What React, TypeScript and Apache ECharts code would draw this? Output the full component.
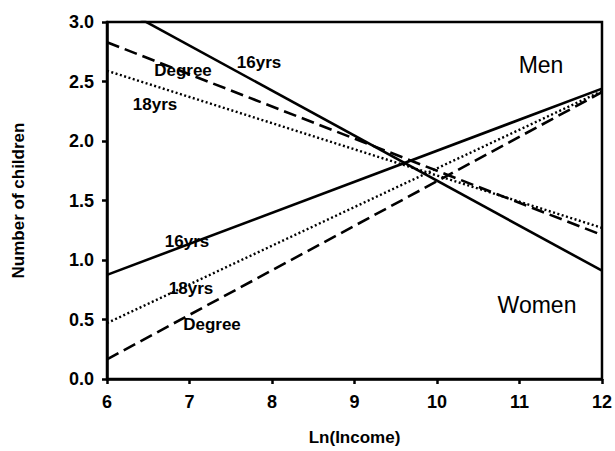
import React, { useEffect, useRef } from "react";
import * as echarts from "echarts";

// x positions of line endpoints (Ln income)
const xEnds = [6, 12];
// Men (decreasing)
const men16yrs = [3.18, 0.91];
const men18yrs = [2.59, 1.27];
const menDegree = [2.83, 1.21];
// Women (increasing)
const women16yrs = [0.875, 2.44];
const women18yrs = [0.47, 2.42];
const womenDegree = [0.165, 2.41];

const xTicks = [6, 7, 8, 9, 10, 11, 12];
const yTicks = [0, 0.5, 1, 1.5, 2, 2.5, 3];

const FONT = "'Liberation Sans', Arial, sans-serif";

const toPairs = (ys: number[]) => xEnds.map((x, i) => [x, ys[i]]);

const solid = { color: "#000", width: 2.6, type: "solid" as const };
const dashed = { color: "#000", width: 2.6, type: [13, 6] as any, cap: "butt" as const };
const dotted = { color: "#000", width: 2.4, type: [2, 2.5] as any, cap: "butt" as const };

function mk(name: string, ys: number[], lineStyle: any) {
  return {
    type: "line",
    name,
    data: toPairs(ys),
    symbol: "none",
    clip: true,
    lineStyle,
    z: 3,
  };
}

function lbl(text: string, cx: number, cy: number, size = 17, weight: any = "bold") {
  return {
    type: "text",
    x: cx,
    y: cy,
    z: 10,
    style: {
      text,
      fill: "#000",
      font: `${weight} ${size}px ${FONT}`,
      align: "center",
      verticalAlign: "middle",
    },
  };
}

export default function App() {
  const ref = useRef<HTMLDivElement>(null);
  useEffect(() => {
    if (!ref.current) return;
    const chart = echarts.init(ref.current, undefined, { renderer: "svg" });
    chart.setOption({
      animation: false,
      backgroundColor: "#fff",
      grid: {
        left: 107,
        right: 12,
        top: 22,
        bottom: 69,
        show: true,
        borderColor: "#000",
        borderWidth: 2.5,
        backgroundColor: "transparent",
      },
      xAxis: {
        type: "value",
        min: 6,
        max: 12,
        interval: 1,
        name: "Ln(Income)",
        nameLocation: "middle",
        nameGap: 50,
        nameTextStyle: { fontFamily: FONT, fontWeight: "bold", fontSize: 17, color: "#000" },
        axisLine: { show: true, lineStyle: { color: "#000", width: 2.5 } },
        axisTick: { show: true, inside: false, length: 5, lineStyle: { color: "#000", width: 2.5 } },
        axisLabel: {
          margin: 14,
          fontFamily: FONT,
          fontWeight: "bold",
          fontSize: 18,
          color: "#000",
          formatter: (v: number) => (xTicks.includes(v) ? String(v) : ""),
        },
        splitLine: { show: false },
      },
      yAxis: {
        type: "value",
        min: 0,
        max: 3,
        interval: 0.5,
        name: "Number of children",
        nameLocation: "middle",
        nameRotate: 90,
        nameGap: 80,
        nameTextStyle: { fontFamily: FONT, fontWeight: "bold", fontSize: 17, color: "#000" },
        axisLine: { show: true, lineStyle: { color: "#000", width: 2.5 } },
        axisTick: { show: true, inside: false, length: 5, lineStyle: { color: "#000", width: 2.5 } },
        axisLabel: {
          margin: 13,
          fontFamily: FONT,
          fontWeight: "bold",
          fontSize: 18,
          color: "#000",
          formatter: (v: number) => (yTicks.includes(v) ? v.toFixed(1) : ""),
        },
        splitLine: { show: false },
      },
      series: [
        mk("Men 16yrs", men16yrs, solid),
        mk("Men 18yrs", men18yrs, dotted),
        mk("Men Degree", menDegree, dashed),
        mk("Women 16yrs", women16yrs, solid),
        mk("Women 18yrs", women18yrs, dotted),
        mk("Women Degree", womenDegree, dashed),
      ],
      graphic: [
        lbl("16yrs", 259, 62),
        lbl("Degree", 183, 70),
        lbl("18yrs", 155, 104),
        lbl("16yrs", 187, 241),
        lbl("18yrs", 191, 288),
        lbl("Degree", 212, 324),
        lbl("Men", 541, 65, 23, "normal"),
        lbl("Women", 537, 305, 23, "normal"),
      ],
    });
    return () => chart.dispose();
  }, []);
  return <div ref={ref} style={{ width: 615, height: 451, position: "absolute", left: 0, top: 0 }} />;
}
